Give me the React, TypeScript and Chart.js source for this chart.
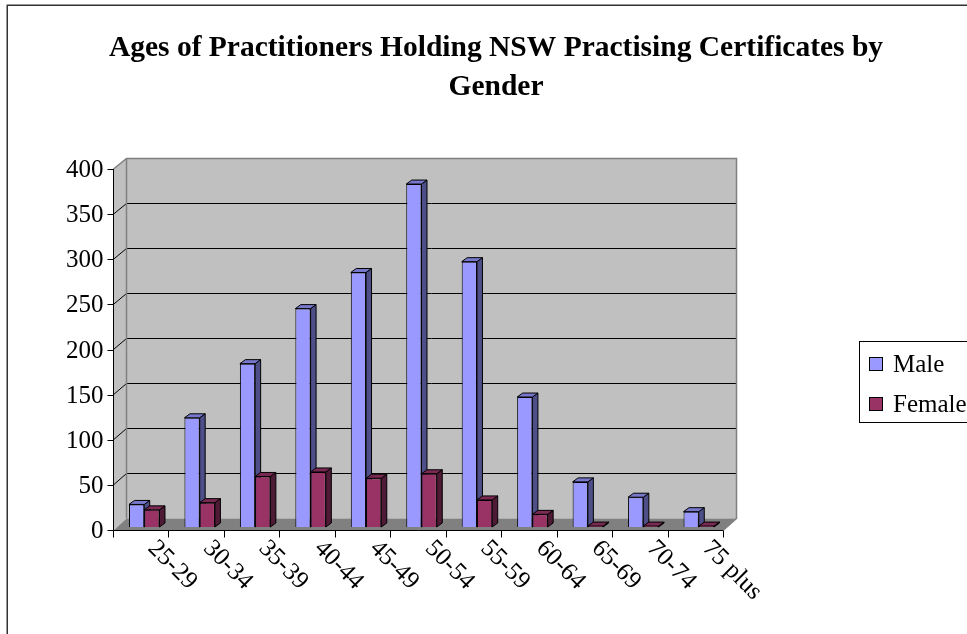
import React, { useEffect, useRef } from "react";
import { Chart, registerables } from "chart.js";

Chart.register(...registerables);

const categories = ["25-29", "30-34", "35-39", "40-44", "45-49", "50-54", "55-59", "60-64", "65-69", "70-74", "75 plus"];
const maleValues = [25, 121, 181, 242, 282, 380, 294, 144, 50, 33, 17];
const femaleValues = [19, 27, 56, 61, 54, 59, 30, 14, 1, 1, 1];
const yTicks = [0, 50, 100, 150, 200, 250, 300, 350, 400];
const seriesNames = ["Male", "Female"];
const titleLines = ["Ages of Practitioners Holding NSW Practising Certificates by", "Gender"];

const FONT = "'Liberation Serif', 'Times New Roman', serif";
const FRONT_COLORS = ["#9999FF", "#993366"];
const SIDE_COLORS = ["#4E4E88", "#4F1A35"];
const TOP_COLORS = ["#7777CC", "#7A2952"];

const BAR_DX = 5.5, BAR_DY = -4;
const BACK_DX = 9.5, BACK_DY = -8.5;
const FRONT_DX = -3.5, FRONT_DY = 3;

function poly(ctx: CanvasRenderingContext2D, pts: number[][], fill?: string, stroke?: string, lw = 1) {
  ctx.beginPath();
  pts.forEach((p, i) => (i === 0 ? ctx.moveTo(p[0], p[1]) : ctx.lineTo(p[0], p[1])));
  ctx.closePath();
  if (fill) { ctx.fillStyle = fill; ctx.fill(); }
  if (stroke) { ctx.strokeStyle = stroke; ctx.lineWidth = lw; ctx.stroke(); }
}
function line(ctx: CanvasRenderingContext2D, x1: number, y1: number, x2: number, y2: number, color: string, lw = 1) {
  ctx.beginPath();
  ctx.moveTo(x1, y1);
  ctx.lineTo(x2, y2);
  ctx.strokeStyle = color;
  ctx.lineWidth = lw;
  ctx.stroke();
}

const decorPlugin = {
  id: "decor3d",
  beforeDatasetsDraw(chart: any) {
    const ctx: CanvasRenderingContext2D = chart.ctx;
    const xs = chart.scales.x, ys = chart.scales.y;
    const area = chart.chartArea;
    const y0 = ys.getPixelForValue(yTicks[0]);
    const yMax = ys.getPixelForValue(yTicks[yTicks.length - 1]);
    const fL = Math.round(area.left + FRONT_DX) + 0.5, fR = area.right + FRONT_DX;
    const fB = Math.round(y0 + FRONT_DY) + 0.5, fT = yMax + FRONT_DY;
    const bL = Math.round(area.left + BACK_DX) + 0.5, bR = Math.round(area.right + BACK_DX) + 0.5;
    const bB = y0 + BACK_DY, bT = Math.round(yMax + BACK_DY) + 0.5;
    ctx.save();
    // frame
    ctx.strokeStyle = "#333";
    ctx.lineWidth = 1.5;
    ctx.strokeRect(7.25, 5.25, 1200, 1000);
    // walls
    poly(ctx, [[fL, fT], [bL, bT], [bL, bB], [fL, fB]], "#C0C0C0");
    ctx.fillStyle = "#C0C0C0";
    ctx.fillRect(bL, bT, bR - bL, bB - bT);
    // gridlines
    yTicks.forEach((v) => {
      if (v === yTicks[0] || v === yTicks[yTicks.length - 1]) return;
      const yb = Math.round(ys.getPixelForValue(v) + BACK_DY) + 0.5;
      const yf = ys.getPixelForValue(v) + FRONT_DY;
      line(ctx, bL, yb, bR, yb, "#000", 1);
      line(ctx, fL, yf, bL, yb, "#000", 1);
    });
    // floor
    poly(ctx, [[fL, fB], [fR, fB], [bR, bB], [bL, bB]], "#808080");
    // outlines
    ctx.beginPath();
    ctx.moveTo(fL, fT);
    ctx.lineTo(bL, bT);
    ctx.lineTo(bR, bT);
    ctx.lineTo(bR, bB);
    ctx.lineTo(fR, fB);
    ctx.moveTo(bL, bT);
    ctx.lineTo(bL, bB);
    ctx.strokeStyle = "#808080";
    ctx.lineWidth = 1.5;
    ctx.stroke();
    // y axis
    line(ctx, fL, fT, fL, fB, "#000", 1);
    ctx.font = `25px ${FONT}`;
    ctx.fillStyle = "#000";
    ctx.textAlign = "right";
    ctx.textBaseline = "middle";
    yTicks.forEach((v) => {
      const yf = Math.round(ys.getPixelForValue(v) + FRONT_DY) + 0.5;
      line(ctx, fL - 6, yf, fL, yf, "#000", 1);
      ctx.fillText(String(v), fL - 10, yf + 1);
    });
    // x axis
    line(ctx, fL, fB, fR, fB, "#000", 1);
    const n = categories.length;
    const cw = (area.right - area.left) / n;
    for (let i = 0; i <= n; i++) {
      const x = Math.round(area.left + i * cw + FRONT_DX) + 0.5;
      line(ctx, x, fB, x, fB + 7, "#000", 1);
    }
    ctx.textAlign = "left";
    ctx.textBaseline = "middle";
    categories.forEach((c, i) => {
      const cx = xs.getPixelForValue(i) + FRONT_DX;
      ctx.save();
      ctx.translate(cx + 11, fB + 14);
      ctx.rotate(Math.PI / 4);
      ctx.fillText(c, 0, 0);
      ctx.restore();
    });
    // 3D faces of bars
    const metas = [chart.getDatasetMeta(0), chart.getDatasetMeta(1)];
    for (let i = 0; i < n; i++) {
      metas.forEach((meta: any, d: number) => {
        const el = meta.data[i];
        if (!el) return;
        const { x, y, base, width } = el.getProps(["x", "y", "base", "width"], true);
        const l = x - width / 2, r = x + width / 2;
        poly(ctx, [[r, y], [r + BAR_DX, y + BAR_DY], [r + BAR_DX, base + BAR_DY], [r, base]], SIDE_COLORS[d], "#000", 1);
        poly(ctx, [[l, y], [r, y], [r + BAR_DX, y + BAR_DY], [l + BAR_DX, y + BAR_DY]], TOP_COLORS[d], "#000", 1);
      });
    }
    ctx.restore();
  },
  afterDraw(chart: any) {
    const ctx: CanvasRenderingContext2D = chart.ctx;
    ctx.save();
    // title
    ctx.fillStyle = "#000";
    ctx.font = `bold 29.5px ${FONT}`;
    ctx.textAlign = "center";
    ctx.textBaseline = "alphabetic";
    ctx.fillText(titleLines[0], 496, 56);
    ctx.fillText(titleLines[1], 496, 95);
    // legend
    ctx.strokeStyle = "#000";
    ctx.lineWidth = 1;
    ctx.strokeRect(859.5, 341.5, 200, 81);
    ctx.font = `25px ${FONT}`;
    ctx.textAlign = "left";
    chart.data.datasets.forEach((ds: any, d: number) => {
      const y = 357.5 + d * 40;
      ctx.fillStyle = ds.backgroundColor;
      ctx.fillRect(869.5, y, 13, 13);
      ctx.strokeRect(869.5, y, 13, 13);
      ctx.fillStyle = "#000";
      ctx.fillText(ds.label, 893, y + 14.5);
    });
    ctx.restore();
  },
};

export default function App() {
  const ref = useRef<HTMLCanvasElement | null>(null);
  useEffect(() => {
    if (!ref.current) return;
    const chart = new Chart(ref.current, {
      type: "bar",
      data: {
        labels: categories,
        datasets: [
          { label: seriesNames[0], data: maleValues, backgroundColor: FRONT_COLORS[0], borderColor: "#000", borderWidth: 1 },
          { label: seriesNames[1], data: femaleValues, backgroundColor: FRONT_COLORS[1], borderColor: "#000", borderWidth: 1 },
        ],
      },
      options: {
        responsive: false,
        animation: false,
        devicePixelRatio: 1,
        layout: { padding: { left: 116.5, right: 240.5, top: 166, bottom: 107 } },
        datasets: { bar: { categoryPercentage: 0.55, barPercentage: 1.0 } },
        scales: {
          x: { display: false },
          y: { display: false, min: 0, max: 400 },
        },
        plugins: { legend: { display: false }, title: { display: false }, tooltip: { enabled: false } },
      },
      plugins: [decorPlugin],
    });
    return () => chart.destroy();
  }, []);
  return (
    <div style={{ position: "fixed", left: 0, top: 0, width: 967, height: 634, background: "#fff" }}>
      <canvas ref={ref} width={967} height={634} />
    </div>
  );
}
